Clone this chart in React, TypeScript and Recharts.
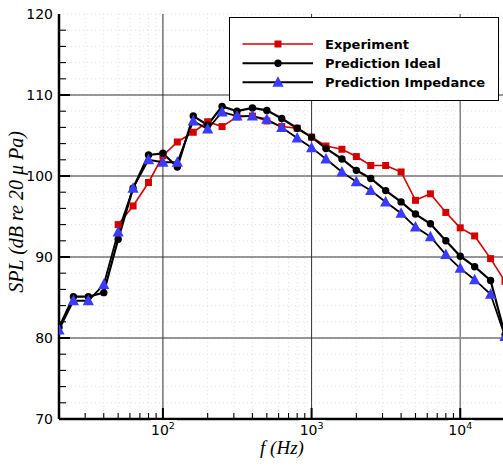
import React from "react";
import { LineChart, Line, XAxis, YAxis, CartesianGrid, ReferenceLine, Legend } from "recharts";

// 1/3-octave band centre frequencies (Hz)
const FREQS = [20, 25, 31.5, 40, 50, 63, 80, 100, 125, 160, 200, 250, 315, 400, 500, 630, 800, 1000, 1250, 1600, 2000, 2500, 3150, 4000, 5000, 6300, 8000, 10000, 12500, 16000, 20000];
const EXPERIMENT = [null, null, null, null, 94.0, 96.3, 99.2, 102.5, 104.2, 105.4, 106.7, 106.1, 107.3, 107.4, 106.8, 106.1, 105.9, 104.8, 103.7, 103.3, 102.4, 101.3, 101.3, 100.5, 97.0, 97.8, 95.5, 93.6, 92.6, 89.8, 87.0];
const IDEAL = [81.3, 85.1, 85.1, 85.6, 92.2, 98.5, 102.6, 102.8, 101.1, 107.4, 106.3, 108.6, 108.0, 108.4, 108.1, 107.1, 105.9, 104.8, 103.4, 102.1, 100.7, 99.7, 98.2, 96.8, 95.3, 94.1, 92.0, 90.1, 88.8, 87.1, 80.4];
const IMPEDANCE = [81.0, 84.6, 84.6, 86.6, 93.1, 98.5, 102.0, 101.7, 101.7, 106.8, 105.8, 107.9, 107.4, 107.4, 107.0, 106.0, 104.7, 103.5, 102.1, 100.5, 99.3, 98.2, 96.8, 95.4, 93.7, 92.5, 90.3, 88.6, 87.2, 85.4, 80.2];

const SERIES_NAMES = ["Experiment", "Prediction Ideal", "Prediction Impedance"];

const X_TICKS = [20, 30, 40, 50, 60, 70, 80, 90, 100, 200, 300, 400, 500, 600, 700, 800, 900, 1000, 2000, 3000, 4000, 5000, 6000, 7000, 8000, 9000, 10000, 20000];
const X_MAJOR = [100, 1000, 10000];
const Y_TICKS = [70, 72, 74, 76, 78, 80, 82, 84, 86, 88, 90, 92, 94, 96, 98, 100, 102, 104, 106, 108, 110, 112, 114, 116, 118, 120];
const Y_MAJOR = [80, 90, 100, 110];

const RED = "#d40000";
const BLUE = "#3b3bff";
const TICK_FONT = "'DejaVu Sans', sans-serif";
const LABEL_FONT = "'Liberation Serif', serif";

const data = FREQS.map((f, i) => ({
  f,
  experiment: EXPERIMENT[i],
  ideal: IDEAL[i],
  impedance: IMPEDANCE[i],
}));

const Square = ({ cx, cy }: { cx: number; cy: number }) => (
  <rect x={cx - 3.5} y={cy - 3.5} width={7} height={7} fill={RED} />
);
const Dot = ({ cx, cy }: { cx: number; cy: number }) => <circle cx={cx} cy={cy} r={3.7} fill="#000" />;
const Triangle = ({ cx, cy }: { cx: number; cy: number }) => (
  <polygon points={`${cx},${cy - 6} ${cx - 5.6},${cy + 4.5} ${cx + 5.6},${cy + 4.5}`} fill={BLUE} />
);

const dotRenderer = (Shape: React.FC<{ cx: number; cy: number }>) => (p: any) => {
  if (p.cx == null || p.cy == null || p.value == null) return <g key={p.index} />;
  return (
    <g key={p.index}>
      <Shape cx={p.cx} cy={p.cy} />
    </g>
  );
};

const XTick = (props: any) => {
  const x = Number(props.x);
  const y = Number(props.y);
  const v = props.payload.value;
  if (v === 20 || v === 20000) return <g />;
  const major = X_MAJOR.includes(v);
  return (
    <g>
      <line x1={x} y1={y} x2={x} y2={y - (major ? 11 : 6)} stroke="#000" strokeWidth={major ? 2 : 1.1} />
      {major && (
        <>
          <rect x={x - 12} y={y + 1} width={26} height={19} fill="#fff" />
          <text x={x} y={y + 16} textAnchor="middle" fontFamily={TICK_FONT} fontSize={14} fill="#000">
            10
            <tspan dy={-6} fontSize={9.5}>
              {Math.round(Math.log10(v))}
            </tspan>
          </text>
        </>
      )}
    </g>
  );
};

const TopTick = (props: any) => {
  const x = Number(props.x);
  const y = Number(props.y);
  return <line x1={x} y1={y} x2={x} y2={y + 11} stroke="#000" strokeWidth={2} />;
};

const YTick = (props: any) => {
  const x = Number(props.x);
  const y = Number(props.y);
  const v = props.payload.value;
  const major = v % 10 === 0;
  return (
    <g>
      {v !== 70 && v !== 120 && (
        <line x1={x} y1={y} x2={x + (major ? 11 : 7)} y2={y} stroke="#000" strokeWidth={major ? 2 : 1.1} />
      )}
      {major && (
        <text x={x - 6} y={y + 5} textAnchor="end" fontFamily={TICK_FONT} fontSize={14} fill="#000">
          {v}
        </text>
      )}
    </g>
  );
};

const LegendBox = () => {
  const rows = [26, 45.3, 64.3];
  return (
    <svg width={268} height={82} style={{ display: "block" }}>
      {SERIES_NAMES.map((name, i) => (
        <g key={name}>
          <line x1={12.5} x2={83} y1={rows[i]} y2={rows[i]} stroke={i === 0 ? RED : "#000"} strokeWidth={i === 0 ? 1.6 : 2} />
          {i === 0 && <Square cx={48} cy={rows[i]} />}
          {i === 1 && <Dot cx={48} cy={rows[i]} />}
          {i === 2 && <Triangle cx={48} cy={rows[i]} />}
          <text x={95} y={rows[i] + 4.7} fontFamily={TICK_FONT} fontWeight="bold" fontSize={13} fill="#000">
            {name}
          </text>
        </g>
      ))}
    </svg>
  );
};

export default function App() {
  return (
    <div style={{ position: "absolute", left: 0, top: 0, width: 503, height: 466, overflow: "hidden", background: "#fff" }}>
      <LineChart width={510} height={466} data={data} margin={{ top: 14, right: 5, left: 0, bottom: 0 }}>
        <CartesianGrid stroke="#e2e2e2" strokeDasharray="1 3" />
        {Y_MAJOR.map((v) => (
          <ReferenceLine key={`y${v}`} y={v} stroke="#333" strokeWidth={1} />
        ))}
        {X_MAJOR.map((v) => (
          <ReferenceLine key={`x${v}`} x={v} stroke={v === 10000 ? "#888" : "#333"} strokeWidth={v === 10000 ? 1.6 : 1} />
        ))}
        <XAxis
          dataKey="f"
          type="number"
          scale="log"
          domain={[20, 20000]}
          allowDataOverflow
          ticks={X_TICKS}
          interval={0}
          tickSize={0}
          tickMargin={0}
          tickLine={false}
          tick={XTick}
          height={47}
          axisLine={{ stroke: "#000", strokeWidth: 2.5 }}
          label={{
            content: (p: any) => (
              <text
                x={p.viewBox.x + p.viewBox.width / 2}
                y={p.viewBox.y + 35}
                textAnchor="middle"
                fontFamily={LABEL_FONT}
                fontStyle="italic"
                fontSize={19}
                fill="#000"
              >
                f (Hz)
              </text>
            ),
          }}
        />
        <XAxis
          xAxisId="top"
          orientation="top"
          dataKey="f"
          type="number"
          scale="log"
          domain={[20, 20000]}
          allowDataOverflow
          ticks={X_MAJOR}
          interval={0}
          tickSize={0}
          tickMargin={0}
          tickLine={false}
          tick={TopTick}
          height={0}
          axisLine={{ stroke: "#000", strokeWidth: 2.5 }}
        />
        <YAxis
          type="number"
          domain={[70, 120]}
          allowDataOverflow
          ticks={Y_TICKS}
          interval={0}
          tickSize={0}
          tickMargin={0}
          tickLine={false}
          tick={YTick}
          width={59}
          axisLine={{ stroke: "#000", strokeWidth: 2.5 }}
          label={{
            content: () => (
              <text
                x={23}
                y={212}
                transform="rotate(-90, 23, 212)"
                textAnchor="middle"
                fontFamily={LABEL_FONT}
                fontStyle="italic"
                fontSize={20}
                fill="#000"
              >
                SPL (dB re 20 μ Pa)
              </text>
            ),
          }}
        />
        <Legend
          layout="horizontal"
          verticalAlign="middle"
          align="center"
          wrapperStyle={{
            left: 229,
            top: 17,
            width: 270,
            height: 84,
            border: "1px solid #000",
            background: "#fff",
            boxSizing: "border-box",
          }}
          content={() => <LegendBox />}
        />
        <Line
          name={SERIES_NAMES[0]}
          dataKey="experiment"
          stroke={RED}
          strokeWidth={1.6}
          dot={dotRenderer(Square)}
          activeDot={false}
          isAnimationActive={false}
        />
        <Line
          name={SERIES_NAMES[1]}
          dataKey="ideal"
          stroke="#000"
          strokeWidth={2.2}
          dot={dotRenderer(Dot)}
          activeDot={false}
          isAnimationActive={false}
        />
        <Line
          name={SERIES_NAMES[2]}
          dataKey="impedance"
          stroke="#000"
          strokeWidth={1.8}
          dot={dotRenderer(Triangle)}
          activeDot={false}
          isAnimationActive={false}
        />
      </LineChart>
    </div>
  );
}
